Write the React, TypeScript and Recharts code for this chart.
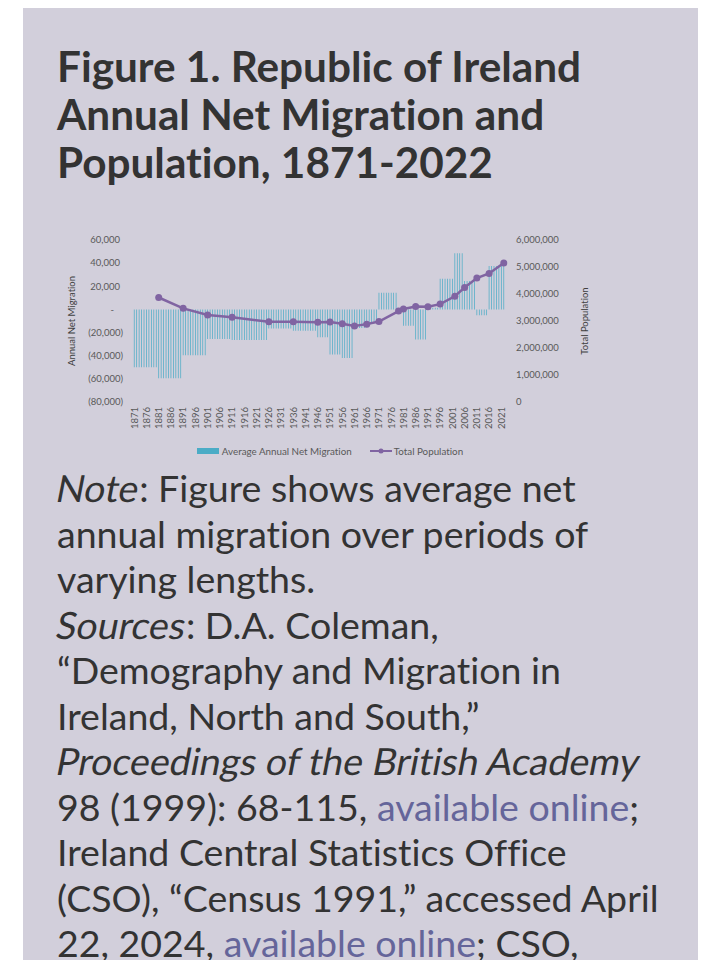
import { ComposedChart, Bar, Line, XAxis, YAxis, Legend } from "recharts";

// average annual net migration, by period (period runs from start year to next start)
const periodStarts = [1871, 1881, 1891, 1901, 1911, 1926, 1936, 1946, 1951, 1956, 1961, 1966, 1971, 1979, 1981, 1986, 1991, 1996, 2002, 2006, 2011, 2016];
const periodMigration = [-50000, -59500, -39500, -25500, -26500, -16500, -18500, -24000, -39000, -42000, -16000, -11000, 14500, -2000, -14000, -26000, 1500, 26500, 48500, 24500, -5000, 37500];

// census population
const censusYears = [1881, 1891, 1901, 1911, 1926, 1936, 1946, 1951, 1956, 1961, 1966, 1971, 1979, 1981, 1986, 1991, 1996, 2002, 2006, 2011, 2016, 2022];
const population = [3870020, 3468694, 3221823, 3139688, 2971992, 2968420, 2955107, 2960593, 2898264, 2818341, 2884002, 2978248, 3368217, 3443405, 3540643, 3525719, 3626087, 3917203, 4239848, 4588252, 4761865, 5149139];

const firstYear = 1871;
const lastYear = 2022;

const leftTicks = [-80000, -60000, -40000, -20000, 0, 20000, 40000, 60000];
const rightTicks = [0, 1000000, 2000000, 3000000, 4000000, 5000000, 6000000];

const data: any[] = [];
for (let y = firstYear; y <= lastYear; y++) {
  let idx = 0;
  for (let i = 0; i < periodStarts.length; i++) {
    if (y >= periodStarts[i]) idx = i;
  }
  const c = censusYears.indexOf(y);
  data.push({
    year: String(y),
    migration: periodMigration[idx],
    population: c >= 0 ? population[c] : null,
  });
}

const BLUE = "#4bacc6";
const PURPLE = "#8064a2";
const TICK = "#595959";
const LINK = "#65659a";
const FONT = "Lato, 'DejaVu Sans', sans-serif";

const fmt = (v: number) => v.toLocaleString("en-US");

function LeftTick({ x, y, payload }: any) {
  const v = payload.value;
  let label = fmt(v);
  let dx = -3;
  if (v < 0) {
    label = "(" + fmt(-v) + ")";
    dx = 0;
  }
  if (v === 0) {
    label = "-";
    dx = -9;
  }
  return (
    <text x={x + dx} y={y} dy="0.35em" textAnchor="end" fontSize={9.5} fill={TICK} fontFamily={FONT}>
      {label}
    </text>
  );
}

function RightTick({ x, y, payload }: any) {
  return (
    <text x={x} y={y} dy="0.35em" textAnchor="start" fontSize={9.5} fill={TICK} fontFamily={FONT}>
      {fmt(payload.value)}
    </text>
  );
}

function YearTick({ x, y, payload }: any) {
  return (
    <g transform={`translate(${x},${y})`}>
      <text transform="rotate(-90)" textAnchor="end" dy="0.35em" fontSize={9.5} fill={TICK} fontFamily={FONT}>
        {payload.value}
      </text>
    </g>
  );
}

function ChartLegend() {
  return (
    <div
      style={{
        display: "flex",
        justifyContent: "center",
        alignItems: "center",
        height: 28,
        fontFamily: FONT,
        fontSize: 9.8,
        color: TICK,
      }}
    >
      <span style={{ display: "inline-block", width: 22, height: 6, background: BLUE, marginRight: 3 }} />
      <span>Average Annual Net Migration</span>
      <svg width={22} height={8} style={{ marginLeft: 18, marginRight: 2 }}>
        <line x1={0} y1={4} x2={22} y2={4} stroke={PURPLE} strokeWidth={2} />
        <circle cx={11} cy={4} r={2.5} fill={PURPLE} />
      </svg>
      <span>Total Population</span>
    </div>
  );
}

// slanted regular face, like the reference's oblique text
function Slant({ children }: any) {
  return <span style={{ display: "inline-block", transform: "skewX(-11deg)" }}>{children}</span>;
}

export default function App() {
  return (
    <div
      style={{
        background: "#d2cfdb",
        marginLeft: 15,
        marginRight: 2,
        paddingTop: 34,
        paddingBottom: 40,
        fontFamily: FONT,
        fontVariantLigatures: "none",
        color: "#333",
      }}
    >
      <div style={{ paddingLeft: 34, fontSize: 42.3, fontWeight: 700, lineHeight: "48px" }}>
        Figure 1. Republic of Ireland
        <br />
        Annual Net Migration and
        <br />
        Population, 1871-2022
      </div>

      <div style={{ marginLeft: 27, marginTop: 39, width: 560, height: 240 }}>
        <ComposedChart
          width={560}
          height={240}
          data={data}
          margin={{ top: 15, right: 0, bottom: 0, left: 0 }}
          barCategoryGap="35%"
        >
          <XAxis
            dataKey="year"
            interval={4}
            tick={<YearTick />}
            tickLine={false}
            axisLine={false}
            tickSize={0}
            tickMargin={5}
            height={35}
          />
          <YAxis
            yAxisId="left"
            orientation="left"
            width={83}
            domain={[-80000, 60000]}
            ticks={leftTicks}
            tick={<LeftTick />}
            tickLine={false}
            axisLine={false}
            tickSize={0}
            tickMargin={10}
            label={{
              value: "Annual Net Migration",
              angle: -90,
              position: "insideLeft",
              offset: 22,
              style: { textAnchor: "middle", fontSize: 9.5, fill: "#404040", fontFamily: FONT },
            }}
          />
          <YAxis
            yAxisId="right"
            orientation="right"
            width={105}
            domain={[0, 6000000]}
            ticks={rightTicks}
            tick={<RightTick />}
            tickLine={false}
            axisLine={false}
            tickSize={0}
            tickMargin={11}
            label={{
              value: "Total Population",
              angle: -90,
              position: "insideLeft",
              offset: 80,
              style: { textAnchor: "middle", fontSize: 9.5, fill: "#404040", fontFamily: FONT },
            }}
          />
          <Legend verticalAlign="bottom" height={28} content={<ChartLegend />} />
          <Bar yAxisId="left" dataKey="migration" fill={BLUE} isAnimationActive={false} />
          <Line
            yAxisId="right"
            dataKey="population"
            type="linear"
            stroke={PURPLE}
            strokeWidth={2.5}
            dot={{ r: 3.5, fill: PURPLE, stroke: PURPLE, strokeWidth: 0 }}
            connectNulls
            isAnimationActive={false}
          />
        </ComposedChart>
      </div>

      <div
        style={{
          paddingLeft: 34,
          marginTop: 0,
          fontSize: 37.5,
          lineHeight: "45.5px",
          whiteSpace: "nowrap",
        }}
      >
        <Slant>Note</Slant>: Figure shows average net
        <br />
        annual migration over periods of
        <br />
        varying lengths.
        <br />
        <Slant>Sources</Slant>: D.A. Coleman,
        <br />
        “Demography and Migration in
        <br />
        Ireland, North and South,”
        <br />
        <Slant>Proceedings of the British Academy</Slant>
        <br />
        98 (1999): 68-115, <span style={{ color: LINK }}>available online</span>;
        <br />
        Ireland Central Statistics Office
        <br />
        (CSO), “Census 1991,” accessed April
        <br />
        22, 2024, <span style={{ color: LINK }}>available online</span>; CSO,
      </div>
    </div>
  );
}
